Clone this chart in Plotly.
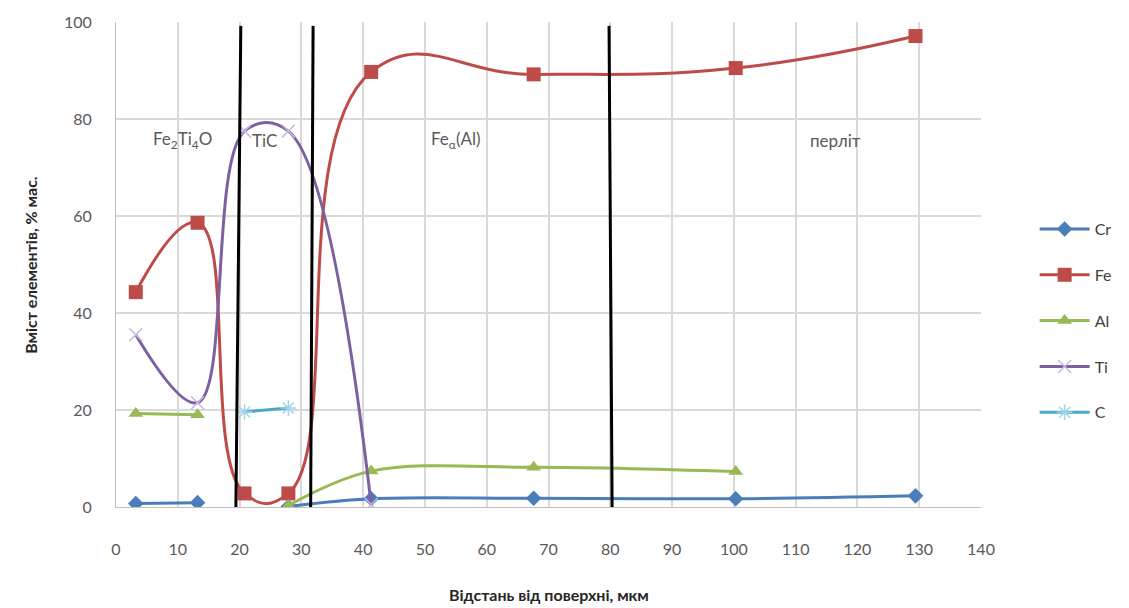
import plotly.graph_objects as go

# ---- data ----
cr_x = [3.2, 13.2, 20.8, 27.9, 41.3, 67.6, 100.3, 129.4]
cr_y = [0.7, 0.9, None, 0.1, 1.7, 1.8, 1.7, 2.3]

fe_x = [3.2, 13.2, 20.8, 27.9, 41.3, 67.6, 100.3, 129.4]
fe_y = [44.3, 58.6, 2.8, 2.8, 89.7, 89.2, 90.5, 97.1]

al_x = [3.2, 13.2, 20.8, 27.9, 41.3, 67.6, 100.3]
al_y = [19.3, 19.0, None, 0.3, 7.4, 8.2, 7.3]

ti_x = [3.2, 13.2, 20.8, 27.9, 41.3]
ti_y = [35.5, 21.5, 77.5, 77.5, 0.5]

c_x = [20.8, 27.9]
c_y = [19.6, 20.4]

# phase boundary lines (x at top, x at bottom)
boundary_top_x = [20.2, 31.9, 79.8]
boundary_bot_x = [19.4, 31.5, 80.3]

phase_labels = ["Fe<sub>2</sub>Ti<sub>4</sub>O", "TiC", "Fe<sub>α</sub>(Al)", "перліт"]
phase_label_x = [10.8, 24.0, 55.0, 116.5]
phase_label_y = 75.6

x_ticks = list(range(0, 141, 10))
y_ticks = list(range(0, 101, 20))

FONT = "Lato"
GREY = "#595959"

series = [
    ("Cr", cr_x, cr_y, "#4A7EBB", 1.0, dict(symbol="diamond", size=12, color="#4A7EBB")),
    ("Fe", fe_x, fe_y, "#BE4B48", 1.3, dict(symbol="square", size=14, color="#BE4B48")),
    ("Al", al_x, al_y, "#98B954", 1.0, dict(symbol="triangle-up", size=13, color="#98B954")),
    ("Ti", ti_x, ti_y, "#7D60A0", 1.1, dict(symbol="x-thin-open", size=13, color="#C9B8E0",
                                             line=dict(width=1.5, color="#C9B8E0"))),
    ("C", c_x, c_y, "#46AAC5", 1.0, dict(symbol="asterisk-open", size=13, color="#9FD6E6",
                                          line=dict(width=1.5, color="#9FD6E6"))),
]

fig = go.Figure()
for name, xs, ys, col, sm, mk in series:
    fig.add_trace(go.Scatter(
        x=xs, y=ys, name=name, mode="lines+markers", connectgaps=False,
        line=dict(color=col, width=3, shape="spline", smoothing=sm),
        marker=mk, legendgroup=name,
    ))

for xt, xb in zip(boundary_top_x, boundary_bot_x):
    fig.add_shape(type="line", xref="x", yref="y", x0=xt, y0=99.2, x1=xb, y1=-0.8,
                  line=dict(color="black", width=3), layer="above")

for txt, lx in zip(phase_labels, phase_label_x):
    fig.add_annotation(x=lx, y=phase_label_y, text=txt, showarrow=False,
                       font=dict(family=FONT, size=17, color=GREY))

# axis titles
fig.add_annotation(xref="paper", yref="paper", x=0.5, y=-0.181,
                   xanchor="center", yanchor="middle",
                   text="<b>Відстань від поверхні, мкм</b>", showarrow=False,
                   font=dict(family=FONT, size=16, color="#262626"))
fig.add_annotation(xref="paper", yref="paper", x=-0.099, y=0.5, textangle=-90,
                   xanchor="center", yanchor="middle",
                   text="<b>Вміст елементів, % мас.</b>", showarrow=False,
                   font=dict(family=FONT, size=16, color="#262626"))

fig.update_layout(
    width=1129, height=608,
    margin=dict(l=116, r=145, t=22, b=101),
    plot_bgcolor="white", paper_bgcolor="white",
    font=dict(family=FONT, size=16, color=GREY),
    showlegend=True,
    legend=dict(x=1.062, y=0.608, xanchor="left", yanchor="top",
                traceorder="grouped", tracegroupgap=22,
                font=dict(family=FONT, size=16, color="#404040"),
                itemwidth=50, bgcolor="rgba(0,0,0,0)"),
    xaxis=dict(range=[0, 140], tickvals=x_ticks, showgrid=True, gridcolor="#D9D9D9",
               gridwidth=1.5, zeroline=False, showline=True, linecolor="#BFBFBF",
               ticks="", ticklabelstandoff=28, automargin=False),
    yaxis=dict(range=[0, 100], tickvals=y_ticks, showgrid=True, gridcolor="#D9D9D9",
               gridwidth=1.5, zeroline=False, showline=True, linecolor="#BFBFBF",
               ticks="", ticklabelstandoff=20, automargin=False),
)

fig.write_html("out.html")
